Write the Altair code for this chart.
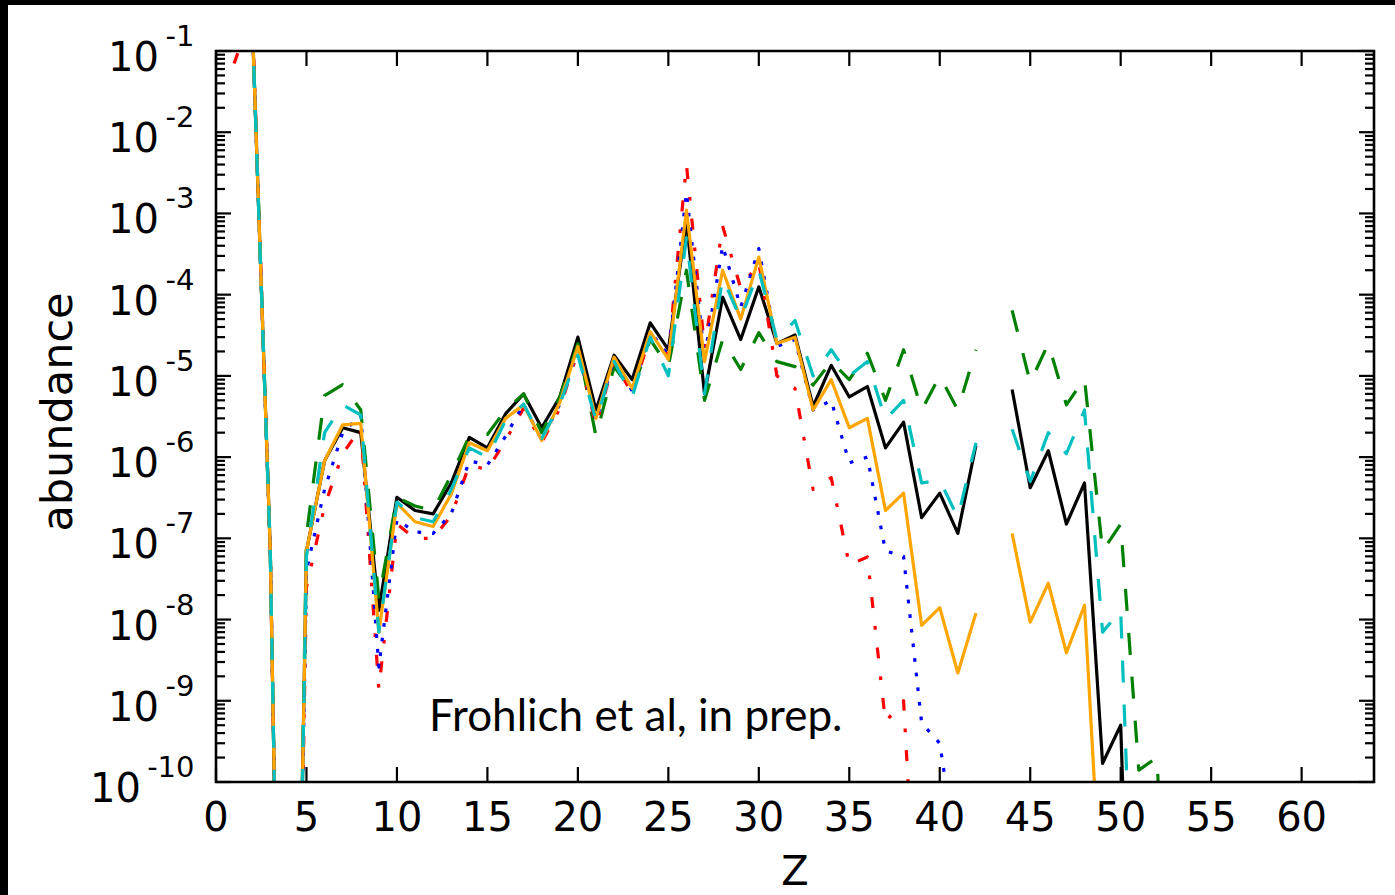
import altair as alt
import pandas as pd

# ---------------- data ----------------
Z = list(range(1, 54))

black = [0.7, 0.25, 7e-8, 1e-20, 7e-8, 9e-7, 2.3e-6, 2.0e-6, 1.3e-8, 3.2e-7,
         2.2e-7, 2.0e-7, 4.8e-7, 1.75e-6, 1.3e-6, 3.4e-6, 6.0e-6, 2.3e-6, 5.5e-6, 3.0e-5,
         3.8e-6, 1.8e-5, 9e-6, 4.5e-5, 2.1e-5, 8e-4, 6e-6, 9.3e-5, 2.8e-5, 1.25e-4,
         2.5e-5, 3.2e-5, 4.2e-6, 1.35e-5, 5.5e-6, 7.4e-6, 1.3e-6, 2.7e-6, 1.8e-7, 3.6e-7,
         1.15e-7, 1.4e-6, None, 6.8e-6, 4.2e-7, 1.2e-6, 1.5e-7, 4.8e-7, 1.7e-10, 5e-10,
         1e-16]

orange = [0.7, 0.25, 7e-8, 1e-20, 7e-8, 9e-7, 2.5e-6, 2.6e-6, 7e-9, 2.7e-7,
          1.6e-7, 1.4e-7, 3.5e-7, 1.5e-6, 1.2e-6, 3.0e-6, 4.4e-6, 1.6e-6, 4.7e-6, 2.3e-5,
          3.0e-6, 1.7e-5, 7e-6, 3.5e-5, 1.6e-5, 1.1e-3, 1.5e-5, 2.0e-4, 5e-5, 2.9e-4,
          2.5e-5, 3.0e-5, 3.8e-6, 9e-6, 2.3e-6, 3.0e-6, 2.2e-7, 3.6e-7, 8.5e-9, 1.4e-8,
          2.2e-9, 1.2e-8, None, 1.15e-7, 9.3e-9, 2.8e-8, 3.9e-9, 1.5e-8, 1.5e-12]

cyan = [0.7, 0.25, 7e-8, 1e-20, 6e-8, 2e-6, 4.4e-6, 3.3e-6, 7e-9, 2.8e-7,
        1.8e-7, 1.6e-7, 4e-7, 1.3e-6, 1.0e-6, 2.8e-6, 4.5e-6, 1.7e-6, 4.5e-6, 1.8e-5,
        2.8e-6, 1.5e-5, 5.5e-6, 3e-5, 1e-5, 5e-4, 6e-6, 1.6e-4, 5e-5, 2.0e-4,
        2.8e-5, 4.8e-5, 1e-5, 2.1e-5, 1e-5, 1.5e-5, 2.9e-6, 5e-6, 4.8e-7, 5.2e-7,
        1.8e-7, 1.5e-6, None, 2.2e-6, 5e-7, 2e-6, 1.1e-6, 3.8e-6, 7e-9, 1.3e-8,
        1e-14]

green = [0.7, 0.25, 7e-8, 1e-20, 1.1e-7, 5.7e-6, 7.8e-6, 3.8e-6, 1.8e-8, 3.2e-7,
         2.5e-7, 2.2e-7, 6e-7, 1.8e-6, 1.9e-6, 3.8e-6, 6e-6, 2e-6, 5.5e-6, 2.5e-5,
         1.8e-6, 1.3e-5, 6.5e-6, 2.8e-5, 1.3e-5, 2e-4, 5e-6, 2.8e-5, 1.2e-5, 3.4e-5,
         1.5e-5, 1.3e-5, 7.7e-6, 1.5e-5, 9e-6, 1.9e-5, 5e-6, 2.1e-5, 3.8e-6, 1e-5,
         3.8e-6, 2.1e-5, None, 6.4e-5, 8.3e-6, 2.5e-5, 4.4e-6, 9.3e-6, 7e-8, 1.5e-7,
         1.4e-10, 2e-10, 1e-14]

red = [7e-2, 0.3, 7e-8, 1e-20, 2.5e-8, 2.5e-7, 1.1e-6, 2.3e-6, 1.4e-9, 1.5e-7,
       1.0e-7, 1.0e-7, 1.9e-7, 8e-7, 7e-7, 1.6e-6, 4e-6, 1.5e-6, 4e-6, 2e-5,
       2.5e-6, 1.5e-5, 6e-6, 3.2e-5, 1.8e-5, 4e-3, 2.2e-5, 7e-4, 1.2e-4, 2.5e-4,
       1e-5, 7e-6, 4e-7, 5.6e-7, 4.7e-8, 5.9e-8, 5.5e-10, 1e-9, 1e-13]

blue = [0.7, 0.25, 7e-8, 1e-20, 4e-8, 4e-7, 2e-6, 3.3e-6, 2.6e-9, 1.7e-7,
        1.2e-7, 1.15e-7, 2e-7, 9e-7, 8e-7, 1.8e-6, 4.5e-6, 1.6e-6, 4.5e-6, 2.2e-5,
        2.8e-6, 1.6e-5, 6.5e-6, 3.5e-5, 1.8e-5, 1.8e-3, 1.7e-5, 4e-4, 7e-5, 3.7e-4,
        2.3e-5, 2.8e-5, 3.8e-6, 5e-6, 8.5e-7, 1e-6, 7e-8, 6e-8, 5.3e-10, 3e-10,
        1e-11, 1.1e-10]

x_tick_values = [0, 5, 10, 15, 20, 25, 30, 35, 40, 45, 50, 55, 60]
x_tick_labels = ["0", "5", "10", "15", "20", "25", "30", "35", "40", "45", "50", "55", "60"]
y_tick_values = [1e-10, 1e-9, 1e-8, 1e-7, 1e-6, 1e-5, 1e-4, 1e-3, 1e-2, 1e-1]
y_tick_base = ["10"] * 10
y_tick_exp = ["-10", "-9", "-8", "-7", "-6", "-5", "-4", "-3", "-2", "-1"]
y_minor_values = [m * d for d in y_tick_values[:-1] for m in range(2, 10)]
x_title = "Z"
y_title = "abundance"

note_text = ["Frohlich et al, in prep."]
note_z = [23.2]
note_abund = [6.2e-10]

# ---------------- layout ----------------
W, H = 1158, 731
PAD_L, PAD_T, PAD_R, PAD_B = 216, 51, 21, 113
FONT = "DejaVu Sans"

xscale = alt.Scale(domain=[0, 64], nice=False, zero=False)
yscale = alt.Scale(type="log", domain=[1e-10, 1e-1], nice=False)

one = pd.DataFrame({"k": [0]})


def series_frame(vals):
    rows = []
    for z, v in zip(Z, vals):
        if v is None:
            continue
        rows.append({"Z": z, "abundance": v, "seg": 0 if z < 43 else 1})
    return pd.DataFrame(rows)


styles = [
    (black, "#000000", None),
    (green, "#008000", [22, 22]),
    (red, "#FF0000", [11, 18, 3.7, 18]),
    (blue, "#0000FF", [3.7, 11]),
    (orange, "#FFA500", None),
    (cyan, "#00BFBF", [22, 22]),
]

line_layers = []
for vals, col, dash in styles:
    kw = dict(color=col, strokeWidth=3.2, clip=True, strokeJoin="round")
    if dash is not None:
        kw["strokeDash"] = dash
    line_layers.append(
        alt.Chart(series_frame(vals)).mark_line(**kw).encode(
            x=alt.X("Z:Q", scale=xscale, axis=None),
            y=alt.Y("abundance:Q", scale=yscale, axis=None),
            detail="seg:N",
        )
    )

xt = pd.DataFrame({"t": x_tick_values, "lab": x_tick_labels})
ymaj = pd.DataFrame({"t": y_tick_values, "base": y_tick_base, "exp": y_tick_exp})
ymin = pd.DataFrame({"t": y_minor_values})
tick_kw = dict(color="black", strokeWidth=2.2)
ticks = [
    alt.Chart(xt).mark_rule(**tick_kw).encode(
        x=alt.X("t:Q", scale=xscale, axis=None), y=alt.value(H), y2=alt.value(H - 15)),
    alt.Chart(xt).mark_rule(**tick_kw).encode(
        x=alt.X("t:Q", scale=xscale, axis=None), y=alt.value(0), y2=alt.value(15)),
    alt.Chart(ymaj).mark_rule(**tick_kw).encode(
        y=alt.Y("t:Q", scale=yscale, axis=None), x=alt.value(0), x2=alt.value(15)),
    alt.Chart(ymaj).mark_rule(**tick_kw).encode(
        y=alt.Y("t:Q", scale=yscale, axis=None), x=alt.value(W), x2=alt.value(W - 15)),
    alt.Chart(ymin).mark_rule(**tick_kw).encode(
        y=alt.Y("t:Q", scale=yscale, axis=None), x=alt.value(0), x2=alt.value(9)),
    alt.Chart(ymin).mark_rule(**tick_kw).encode(
        y=alt.Y("t:Q", scale=yscale, axis=None), x=alt.value(W), x2=alt.value(W - 9)),
]

# tick labels, placed through the scales
x_labels = alt.Chart(xt).mark_text(
    font=FONT, fontSize=40, color="black", align="center", baseline="alphabetic"
).encode(x=alt.X("t:Q", scale=xscale, axis=None), y=alt.value(H + 49), text="lab:N")

# y labels as "10" with a raised exponent (like matplotlib mathtext)
base_kw = dict(font=FONT, fontSize=40, color="black", align="right",
               baseline="alphabetic", dy=20)
y_base_short = alt.Chart(ymaj).transform_filter("length(datum.exp) == 2").mark_text(
    **base_kw).encode(y=alt.Y("t:Q", scale=yscale, axis=None), x=alt.value(-57),
                      text="base:N")
y_base_long = alt.Chart(ymaj).transform_filter("length(datum.exp) == 3").mark_text(
    **base_kw).encode(y=alt.Y("t:Q", scale=yscale, axis=None), x=alt.value(-75),
                      text="base:N")
y_exp = alt.Chart(ymaj).mark_text(
    font=FONT, fontSize=29, color="black", align="right", baseline="alphabetic", dy=-5
).encode(y=alt.Y("t:Q", scale=yscale, axis=None), x=alt.value(-21.5), text="exp:N")

x_title_mark = alt.Chart(pd.DataFrame({"t": [x_title]})).mark_text(
    font=FONT, fontSize=40, color="black", align="center", baseline="alphabetic"
).encode(x=alt.value(W / 2), y=alt.value(H + 103), text="t:N")

y_title_mark = alt.Chart(pd.DataFrame({"t": [y_title]})).mark_text(
    font=FONT, fontSize=43, color="black", align="center", baseline="alphabetic", angle=270
).encode(x=alt.value(-144), y=alt.value(361), text="t:N")

frame = alt.Chart(one).mark_rect(fillOpacity=0, stroke="black", strokeWidth=2.6).encode(
    x=alt.value(0), x2=alt.value(W), y=alt.value(0), y2=alt.value(H))

# thin black border of the original picture (top and left edges)
border_left = alt.Chart(one).mark_rect(color="black").encode(
    x=alt.value(-PAD_L), x2=alt.value(-PAD_L + 8),
    y=alt.value(-PAD_T), y2=alt.value(H + PAD_B))
border_top = alt.Chart(one).mark_rect(color="black").encode(
    x=alt.value(-PAD_L), x2=alt.value(W + PAD_R),
    y=alt.value(-PAD_T), y2=alt.value(-PAD_T + 5))

note = alt.Chart(pd.DataFrame({"t": note_text, "z": note_z, "a": note_abund})).mark_text(
    font="Lato", fontSize=44, color="black", align="center", baseline="middle"
).encode(
    x=alt.X("z:Q", scale=xscale, axis=None),
    y=alt.Y("a:Q", scale=yscale, axis=None),
    text="t:N",
)

chart = alt.layer(*line_layers, *ticks, frame, x_labels, y_base_short, y_base_long,
                  y_exp, x_title_mark, y_title_mark, note,
                  border_left, border_top).properties(
    width=W, height=H,
    padding={"left": PAD_L, "top": PAD_T, "right": PAD_R, "bottom": PAD_B},
    autosize=alt.AutoSizeParams(type="none"),
    background="white",
).configure_view(stroke=None)

chart.save("out.html", embed_options={"renderer": "svg", "actions": False})
